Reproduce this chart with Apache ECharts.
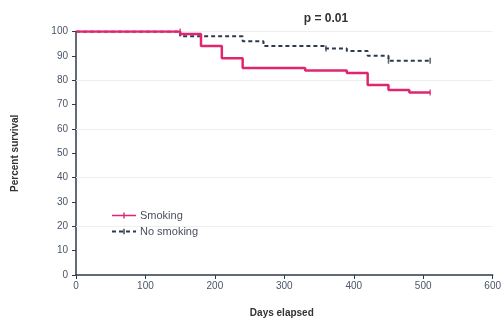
<!DOCTYPE html>
<html><head><meta charset="utf-8">
<script src="https://cdn.jsdelivr.net/npm/echarts@6/dist/echarts.min.js"></script>
<style>html,body{margin:0;padding:0;background:#fff}#c{width:504px;height:323px}</style>
</head><body><div id="c"></div>
<script>
const smokingDays = [0,150,180,210,240,330,390,420,450,480,510];
const smokingSurv = [100,99,94,89,85,84,83,78,76,75,75];
const noSmokingDays = [0,150,240,270,360,390,420,450,510];
const noSmokingSurv = [100,98,96,94,93,92,90,88,88];
const smokingCensor = [[150,100],[510,75]];
const noSmokingCensor = [[360,93],[450,88],[510,88]];
const xTicks = [0,100,200,300,400,500,600];
const yTicks = [0,10,20,30,40,50,60,70,80,90,100];
const gridValues = [20,40,60,80,100];

const pink = '#e0266f', dark = '#2e3a4b';
const zip = (a,b)=>a.map((v,i)=>[v,b[i]]);
const chart = echarts.init(document.getElementById('c'));
chart.setOption({
  animation:false,
  title:{text:'p = 0.01',left:321,top:8,textAlign:'center',textStyle:{fontSize:12,fontWeight:'bold',color:'#333',fontFamily:'Liberation Sans'}},
  grid:{left:76,right:7,top:31.5,bottom:42},
  legend:{orient:'vertical',left:107,top:205,itemWidth:24,itemHeight:8,itemGap:5,
    textStyle:{fontSize:11,color:'#4a4f5a',fontFamily:'Liberation Sans',padding:[0,0,0,-1]},
    data:[{name:'Smoking',icon:'path://M0,3.2L24,3.2L24,4.8L0,4.8Z M11.3,1L12.7,1L12.7,7L11.3,7Z M0,0L0.01,0L0.01,8L0,8Z M23.99,0L24,0L24,8L23.99,8Z'},
          {name:'No smoking',icon:'path://M0,3.1h4v1.8h-4z M7,3.1h4v1.8h-4z M11.3,1.2h1.4v5.6h-1.4z M14,3.1h4v1.8h-4z M21,3.1h3v1.8h-3z M0,0h0.01v8h-0.01z M23.99,0h0.01v8h-0.01z'}]},
  xAxis:{type:'value',min:xTicks[0],max:xTicks[xTicks.length-1],interval:100,
    name:'Days elapsed',nameLocation:'middle',nameGap:33,
    nameTextStyle:{fontSize:10,fontWeight:'bold',color:'#333',fontFamily:'Liberation Sans',padding:[0,0,0,-5]},
    axisLine:{lineStyle:{color:dark,width:1.5}},axisTick:{show:true,length:4,lineStyle:{color:dark}},
    axisLabel:{fontSize:10,color:'#4a5566',margin:6,fontFamily:'Liberation Sans'},splitLine:{show:false}},
  yAxis:{type:'value',min:yTicks[0],max:yTicks[yTicks.length-1],interval:10,
    name:'Percent survival',nameLocation:'middle',nameGap:56,
    nameTextStyle:{fontSize:10,fontWeight:'bold',color:'#333',fontFamily:'Liberation Sans'},
    axisLine:{show:true,lineStyle:{color:dark,width:1.5}},axisTick:{show:true,length:4,lineStyle:{color:dark}},
    axisLabel:{fontSize:10,color:'#4a5566',margin:8,fontFamily:'Liberation Sans'},splitLine:{show:false}},
  series:[
    {name:'Smoking',type:'line',step:'end',data:zip(smokingDays,smokingSurv),showSymbol:false,
     color:pink,lineStyle:{color:pink,width:2.5},z:3,
     markLine:{silent:true,symbol:'none',label:{show:false},lineStyle:{color:'#eceef1',width:1,type:'solid'},
       data:gridValues.map(v=>({yAxis:v})),z:1}},
    {name:'No smoking',type:'line',step:'end',data:zip(noSmokingDays,noSmokingSurv),showSymbol:false,
     color:dark,lineStyle:{color:dark,width:2,type:[4,3]},z:2},
    {type:'scatter',data:smokingCensor,symbol:'rect',symbolSize:[1.5,6],itemStyle:{color:pink},z:4,silent:true},
    {type:'scatter',data:noSmokingCensor,symbol:'rect',symbolSize:[1.5,6],itemStyle:{color:dark},z:4,silent:true}
  ]
});
</script></body></html>
